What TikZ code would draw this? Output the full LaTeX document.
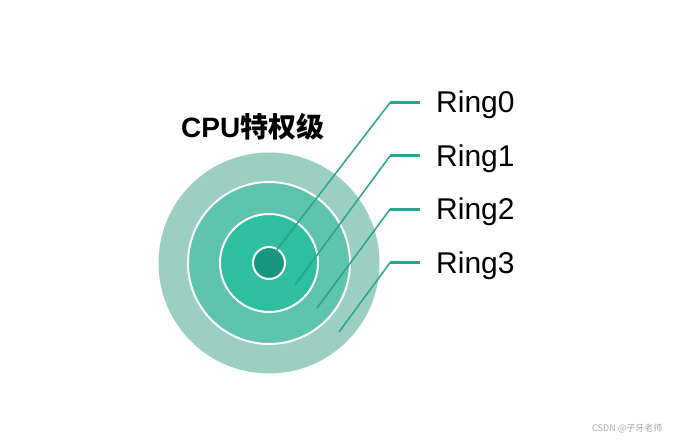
\documentclass[tikz,border=0pt]{standalone}
\usepackage{fontspec}
\setmainfont{Liberation Sans}
\newfontfamily\cjk{Noto Sans CJK SC}
\usepackage{xcolor}
\definecolor{colorRingThree}{HTML}{9BCFC1}
\definecolor{colorRingTwo}{HTML}{5EC4AE}
\definecolor{colorRingOne}{HTML}{2DBF9F}
\definecolor{colorRingZero}{HTML}{17977F}
\definecolor{colorLeader}{HTML}{2AA28C}
\usetikzlibrary{positioning}
\tikzset{
  ring/.style={circle, inner sep=0pt, draw=white, line width=2pt},
  ringlabel/.style={anchor=base west, inner sep=0pt, font=\fontsize{30}{30}\selectfont},
  leader/.style={colorLeader, line width=1.5pt},
  tick/.style={colorLeader, line width=3pt},
}

\begin{document}
\begin{tikzpicture}[x=1pt, y=-1pt]
\useasboundingbox (0,0) rectangle (696,441);
% rings, outermost first
\node[ring, draw=none, fill=colorRingThree, minimum size=221pt] (ring3) at (269,263) {};
\node[ring, fill=colorRingTwo, minimum size=162pt] (ring2) at (ring3.center) {};
\node[ring, fill=colorRingOne, minimum size=98pt] (ring1) at (ring3.center) {};
\node[ring, fill=colorRingZero, minimum size=32pt] (ring0) at (ring3.center) {};
% title
\node[anchor=base west, inner sep=0pt, font=\fontsize{28}{28}\selectfont\bfseries] (title) at (181,138) {CPU{\cjk 特权级}};
% labels
\node[ringlabel] (r0) at (436,113) {Ring0};
\node[ringlabel] (r1) at (436,166.3) {Ring1};
\node[ringlabel] (r2) at (436,219.6) {Ring2};
\node[ringlabel] (r3) at (436,273) {Ring3};
% leader lines
\coordinate (e0) at (276,251);
\coordinate (e1) at (295,285);
\coordinate (e2) at (317,308);
\coordinate (e3) at (339,332);
\coordinate (k0) at (390,102.7);
\coordinate (k1) at (390,156);
\coordinate (k2) at (390,209.3);
\coordinate (k3) at (390,262.7);
\draw[leader] (e0) -- (k0);
\draw[leader] (e1) -- (k1);
\draw[leader] (e2) -- (k2);
\draw[leader] (e3) -- (k3);
\draw[tick] (k0) -- ++(30,0);
\draw[tick] (k1) -- ++(30,0);
\draw[tick] (k2) -- ++(30,0);
\draw[tick] (k3) -- ++(30,0);
% watermark
\node[anchor=base west, inner sep=0pt, text=black!35, font=\cjk\fontsize{9}{9}\selectfont] (mark) at (592,431) {CSDN @子牙老师};
\end{tikzpicture}
\end{document}
